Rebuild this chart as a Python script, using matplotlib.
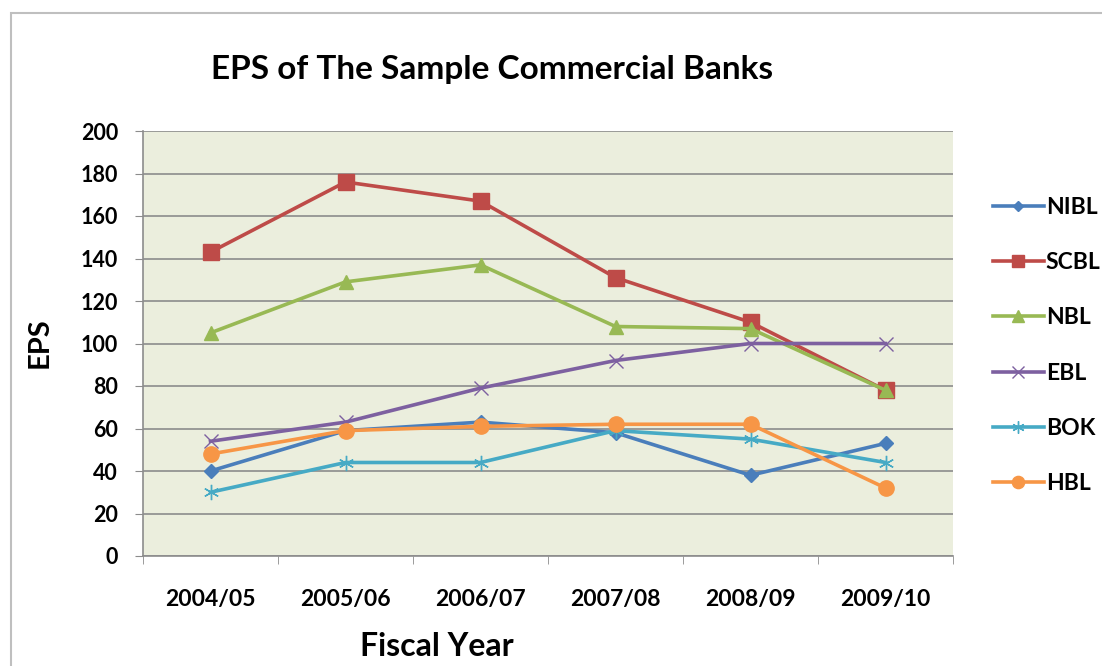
import matplotlib
matplotlib.use("Agg")
import matplotlib.pyplot as plt
from matplotlib.patches import Rectangle

plt.rcParams['font.family'] = ['Lato', 'DejaVu Sans']
plt.rcParams['font.weight'] = 'bold'

years = ["2004/05", "2005/06", "2006/07", "2007/08", "2008/09", "2009/10"]
nibl = [40, 59, 63, 58, 38, 53]
scbl = [143, 176, 167, 131, 110, 78]
nbl = [105, 129, 137, 108, 107, 78]
ebl = [54, 63, 79, 92, 100, 100]
bok = [30, 44, 44, 59, 55, 44]
hbl = [48, 59, 61, 62, 62, 32]

names = ["NIBL", "SCBL", "NBL", "EBL", "BOK", "HBL"]
colors = ["#4A7EBB", "#BE4B48", "#98B954", "#7D60A0", "#46AAC5", "#F79646"]
marks = ["D", "s", "^", "x", (6, 2, 0), "o"]
msizes = [7, 11, 10, 10, 11, 11]

fig = plt.figure(figsize=(11.02, 6.66), dpi=100)
fig.patches.append(Rectangle((11/1102, -0.1), 1.2, 1 - 13/666 + 0.1, transform=fig.transFigure,
                             fill=False, edgecolor="#BFBFBF", linewidth=1.5))
ax = fig.add_axes([143/1102, 1 - 556/666, 810/1102, 425/666])
ax.set_facecolor("#EBEEDD")

x = list(range(len(years)))
for vals, n, c, m, ms in zip([nibl, scbl, nbl, ebl, bok, hbl], names, colors, marks, msizes):
    if m in ("D", "s", "^", "o"):
        ax.plot(x, vals, color=c, linewidth=2.6, marker=m, markersize=ms, label=n)
    else:
        ax.plot(x, vals, color=c, linewidth=2.6, marker=m, markersize=ms,
                markeredgecolor=c, markeredgewidth=1.0, label=n)

ax.set_xlim(-0.5, 5.5)
ax.set_ylim(0, 200)
ax.set_yticks(range(0, 201, 20))
ax.set_xticks(x)
ax.set_xticklabels(years)
ax.set_xticks([i - 0.5 for i in range(7)], minor=True)
ax.tick_params(axis='x', which='major', length=0, pad=24, labelsize=16.5)
ax.tick_params(axis='x', which='minor', length=6, color="#8C8C8C", direction='out')
ax.tick_params(axis='y', length=6, color="#8C8C8C", labelsize=15.5, pad=12)
ax.grid(axis='y', color="#8C8C8C", linewidth=1.2)
ax.set_axisbelow(True)
for s in ("top", "right"):
    ax.spines[s].set_visible(False)
for s in ("left", "bottom"):
    ax.spines[s].set_color("#8C8C8C")
    ax.spines[s].set_linewidth(1.2)

fig.text(492/1102, 1 - 70/666, "EPS of The Sample Commercial Banks", fontsize=24,
         fontweight='bold', ha='center', va='center')
fig.text(40/1102, 1 - 343/666, "EPS", fontsize=21, fontweight='bold', rotation=90,
         ha='center', va='center')
fig.text(437/1102, 1 - 646/666, "Fiscal Year", fontsize=23, fontweight='bold',
         ha='center', va='center')

ax.legend(loc='upper left', bbox_to_anchor=(984/1102, 1 - 188/666), bbox_transform=fig.transFigure,
          frameon=False, fontsize=16.5, labelspacing=1.49, handlelength=2.2, handletextpad=0.1,
          borderaxespad=0, markerscale=0.8)

fig.savefig("out.png", dpi=100)
